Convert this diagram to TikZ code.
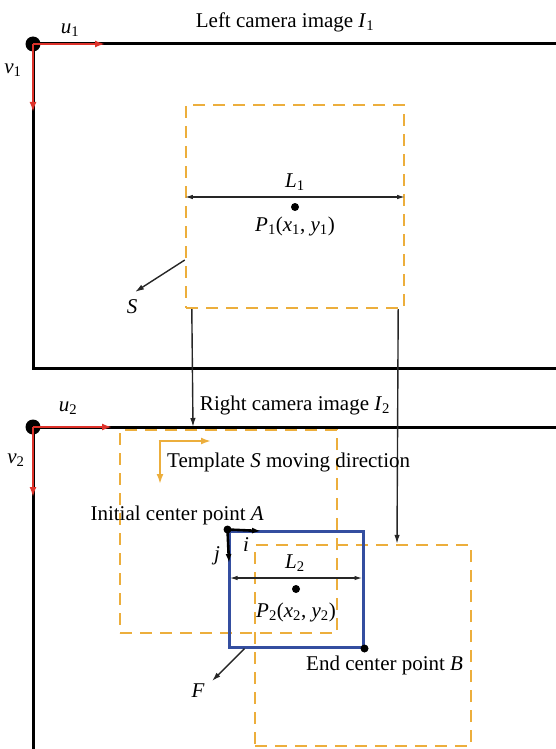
\documentclass[tikz,border=0pt]{standalone}
\usepackage{fontspec}
\setmainfont{Liberation Serif}
\usetikzlibrary{arrows.meta,positioning}
\definecolor{axisred}{RGB}{222,50,42}
\definecolor{tmplorange}{RGB}{236,174,60}
\definecolor{boxblue}{RGB}{52,78,160}
\newcommand{\vsub}[2]{\textit{#1}\textsubscript{#2}}

\begin{document}
\begin{tikzpicture}[x=1pt,y=-1pt,
    font=\fontsize{21}{25}\selectfont,
    frame/.style={line width=3pt,black},
    axis/.style={line width=2.4pt,axisred,-{Latex[length=10pt,width=7pt]}},
    tmpl/.style={draw=tmplorange,line width=2.4pt,dash pattern=on 12pt off 8pt,inner sep=0pt},
    tmplarrow/.style={line width=2.6pt,tmplorange,-{Latex[length=10pt,width=7pt]}},
    thinarrow/.style={line width=1.4pt,black!85,-{Latex[length=9pt,width=5.5pt]}},
    dim/.style={line width=1.4pt,black!85,{Latex[length=8pt,width=4.5pt]}-{Latex[length=8pt,width=4.5pt]}},
    bigdot/.style={circle,fill=black,inner sep=0pt,minimum size=15pt},
    dot/.style={circle,fill=black,inner sep=0pt,minimum size=8pt},
    lab/.style={inner sep=1pt}]
        \useasboundingbox (0,0) rectangle (555,749);
        % left camera image
        \node[bigdot] (o1) at (33,44) {};
        \coordinate (tr1) at (556,44);
        \coordinate (bl1) at (33,368);
        \coordinate (br1) at (556,368);
        \coordinate (u1end) at (105,44);
        \coordinate (v1end) at (33,112);
        \draw[frame] (tr1) -- (o1.center) -- (bl1) -- (br1);
        \draw[axis] (o1.center) -- (u1end);
        \draw[axis] (o1.center) -- (v1end);
        \node[lab] (u1) at (70,30) {\vsub{u}{1}};
        \node[lab] (v1) at (13,70) {\vsub{v}{1}};
        \node[lab] (title1) at (285,22) {Left camera image \vsub{I}{1}};
        \node[tmpl,minimum width=218pt,minimum height=203pt] (S1) at (295,206.5) {};
        \draw[dim] ([yshift=9.5pt]S1.west) -- ([yshift=9.5pt]S1.east);
        \node[lab] (L1) at (295,182) {\vsub{L}{1}};
        \node[dot] (P1) at (295,207) {};
        \node[lab] (P1lab) at (295,226) {\vsub{P}{1}(\vsub{x}{1}, \vsub{y}{1})};
        \coordinate (Send) at (135,292);
        \draw[thinarrow] ([yshift=-53.5pt]S1.west) -- (Send);
        \node[lab] (Slab) at (132,307) {\textit{S}};
        % right camera image
        \node[bigdot] (o2) at (33,427) {};
        \coordinate (tr2) at (556,427);
        \coordinate (bl2) at (33,750);
        \coordinate (u2end) at (112,427);
        \coordinate (v2end) at (33,497);
        \draw[frame] (tr2) -- (o2.center) -- (bl2);
        \draw[axis] (o2.center) -- (u2end);
        \draw[axis] (o2.center) -- (v2end);
        \node[lab] (u2) at (68,408) {\vsub{u}{2}};
        \node[lab] (v2) at (16,460) {\vsub{v}{2}};
        \node[lab] (title2) at (295,405) {Right camera image \vsub{I}{2}};
        \node[tmpl,minimum width=217pt,minimum height=203pt] (S2) at (228.5,531.5) {};
        \node[tmpl,minimum width=216pt,minimum height=201pt] (S3) at (363,645.5) {};
        \coordinate (hit2) at (193,427);
        \draw[thinarrow] ([xshift=7pt]S1.south west) -- (hit2);
        \draw[thinarrow] ([xshift=-7pt]S1.south east) -- (S3.north -| 397,0);
        % moving direction
        \coordinate (dirc) at (160,441);
        \coordinate (dirr) at (211,441);
        \coordinate (dird) at (160,484);
        \draw[tmplarrow] ([xshift=-1.3pt]dirc) -- (dirr);
        \draw[tmplarrow] (dirc) -- (dird);
        \node[lab,anchor=west] (dirlab) at (166,462) {Template \textit{S} moving direction};
        % search window
        \node[draw=boxblue,line width=3pt,minimum width=134pt,minimum height=116pt,inner sep=0pt] (win) at (296,589) {};
        \node[lab,anchor=east] (Alab) at (265,515) {Initial center point \textit{A}};
        \node[dot] (A) at (win.north west) {};
        \coordinate (iend) at (261,531);
        \coordinate (jend) at (229,563);
        \draw[line width=2.6pt,-{Latex[length=9pt,width=6pt]}] (A.center) -- (iend);
        \draw[line width=2.6pt,-{Latex[length=9pt,width=6pt]}] (A.center) -- (jend);
        \node[lab] (ilab) at (246,545) {\textit{i}};
        \node[lab] (jlab) at (217,556) {\textit{j}};
        \draw[dim] ([yshift=11pt,xshift=2pt]win.west) -- ([yshift=11pt,xshift=-2pt]win.east);
        \node[lab] (L2) at (295,563) {\vsub{L}{2}};
        \node[dot] (P2) at (296,589) {};
        \node[lab] (P2lab) at (296,612) {\vsub{P}{2}(\vsub{x}{2}, \vsub{y}{2})};
        \node[dot] (B) at (win.south east) {};
        \node[lab,anchor=west] (Blab) at (305,665) {End center point \textit{B}};
        \coordinate (Fend) at (212,681);
        \draw[thinarrow] ([xshift=17pt]win.south west) -- (Fend);
        \node[lab] (Flab) at (198,691) {\textit{F}};
\end{tikzpicture}
\end{document}
